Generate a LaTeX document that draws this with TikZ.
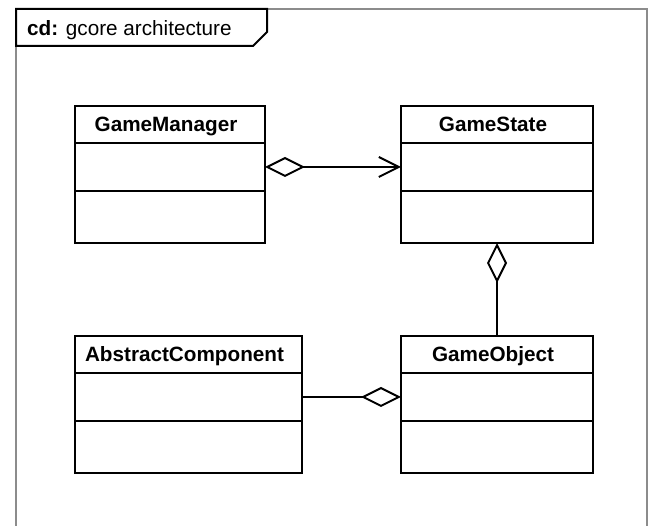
\documentclass[tikz,border=0pt]{standalone}
\usepackage{fontspec}
\setmainfont{Liberation Sans}
\usetikzlibrary{arrows.meta}

\newcommand\umlfont{\fontsize{20.7}{24}\selectfont}

\tikzset{
  uml/.style={draw=black, line width=2pt},
  part/.style={uml, rectangle, inner sep=0pt, outer sep=0pt, anchor=north west},
  namepart/.style={part, minimum height=37pt, text height=26pt, text depth=11pt,
    align=center, font=\umlfont\bfseries, execute at end node={\hspace*{8pt}}},
  attrpart/.style={part, minimum height=48pt},
  oppart/.style={part, minimum height=52pt},
  AggTip/.tip={Diamond[open, length=40pt, width=20pt]},
  NavTip/.tip={Straight Barb[length=20pt, width=20pt, sharp]},
  frameline/.style={draw=black!45, line width=1.5pt}
}

\begin{document}
\begin{tikzpicture}[x=1pt, y=-1pt, font=\umlfont]
\useasboundingbox (0,0) rectangle (654,526);

% diagram frame and its name tag
\draw[frameline] (16,540) -- (16,9) -- (647,9) -- (647,540);
\draw[uml, line join=miter] (16,9) -- (267,9) -- (267,32) -- (253,46) -- (16,46) -- cycle;
\node[anchor=base west, inner sep=0pt] (title) at (27,36) {\textbf{cd:} gcore architecture};

% GameManager
\node[namepart, text width=190pt] (gmN) at (75,106) {GameManager};
\node[attrpart, minimum width=190pt] (gmA) at (gmN.south west) {};
\node[oppart, minimum width=190pt] (gmO) at (gmA.south west) {};

% GameState
\node[namepart, text width=192pt] (gsN) at (401,106) {GameState};
\node[attrpart, minimum width=192pt] (gsA) at (gsN.south west) {};
\node[oppart, minimum width=192pt] (gsO) at (gsA.south west) {};

% AbstractComponent
\node[namepart, text width=227pt] (acN) at (75,336) {AbstractComponent};
\node[attrpart, minimum width=227pt] (acA) at (acN.south west) {};
\node[oppart, minimum width=227pt] (acO) at (acA.south west) {};

% GameObject
\node[namepart, text width=192pt] (goN) at (401,336) {GameObject};
\node[attrpart, minimum width=192pt] (goA) at (goN.south west) {};
\node[oppart, minimum width=192pt] (goO) at (goA.south west) {};

% associations
\draw[uml, AggTip-NavTip] (gmA.east) -- (gsA.west);
\draw[uml, AggTip-] (gsO.south) -- (goN.north);
\draw[uml, -AggTip] (acA.east) -- (goA.west);
\end{tikzpicture}
\end{document}
